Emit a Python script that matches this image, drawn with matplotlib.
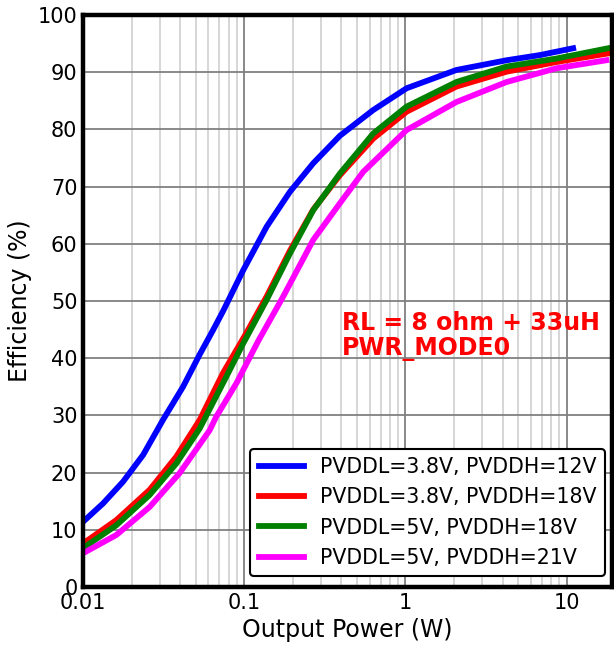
import matplotlib.pyplot as plt
import numpy as np

# Efficiency vs output power, RL = 8 ohm + 33uH, PWR_MODE0
p_blue = [0.01, 0.0133, 0.0177, 0.0236, 0.0313, 0.0417, 0.0528, 0.064, 0.0741, 0.0986,
          0.1377, 0.192, 0.268, 0.392, 0.631, 1.016, 2.07, 4.24, 6.81, 10.96]
eff_blue = [11.4, 14.6, 18.4, 23.1, 29.2, 35.0, 40.6, 44.9, 48.3, 55.4,
            63.0, 69.1, 74.1, 78.9, 83.4, 87.2, 90.4, 92.1, 93.0, 94.2]

p_red = [0.01, 0.0161, 0.0259, 0.0379, 0.0529, 0.0738, 0.103, 0.1377, 0.192, 0.268,
         0.392, 0.631, 1.016, 2.07, 4.24, 8.65, 18.1]
eff_red = [7.6, 11.7, 17.0, 22.8, 29.2, 37.4, 44.4, 50.8, 58.8, 66.0,
           72.0, 78.4, 83.1, 87.5, 90.1, 91.8, 93.3]

p_green = [0.01, 0.0161, 0.0259, 0.0379, 0.0529, 0.0775, 0.0986, 0.1377, 0.192, 0.268,
           0.392, 0.631, 1.016, 2.07, 4.24, 8.65, 18.1]
eff_green = [6.8, 10.8, 16.1, 21.6, 27.7, 36.8, 42.6, 50.2, 58.3, 65.9,
             72.3, 79.3, 84.0, 88.3, 91.0, 92.4, 94.2]

p_mag = [0.01, 0.0161, 0.0259, 0.0397, 0.061, 0.0671, 0.0893, 0.122, 0.1745, 0.268,
         0.392, 0.547, 1.016, 2.07, 4.24, 8.65, 17.6]
eff_mag = [5.9, 9.1, 14.0, 19.9, 27.4, 29.8, 35.6, 43.0, 50.8, 60.7,
           67.1, 72.6, 79.9, 84.8, 88.3, 90.7, 92.1]

labels = ["PVDDL=3.8V, PVDDH=12V", "PVDDL=3.8V, PVDDH=18V",
          "PVDDL=5V, PVDDH=18V", "PVDDL=5V, PVDDH=21V"]
colors = ["#0000ff", "#ff0000", "#008000", "#ff00ff"]

fig = plt.figure(figsize=(6.14, 6.55), dpi=100)
ax = fig.add_axes([0.1352, 0.1038, 0.861, 0.8732])

series = [(p_blue, eff_blue), (p_red, eff_red), (p_green, eff_green), (p_mag, eff_mag)]
for (px, py), lab, col in zip(series, labels, colors):
    ax.plot(px, py, color=col, lw=4.2, label=lab, solid_joinstyle='round')

ax.set_xscale('log')
ax.set_xlim(0.01, 19)
ax.set_ylim(0, 100)
ax.set_yticks(np.arange(0, 101, 10))
ax.set_xticks([0.01, 0.1, 1, 10])
ax.set_xticklabels(['0.01', '0.1', '1', '10'])

ax.grid(True, which='major', color='#808080', lw=1.3)
ax.grid(True, which='minor', axis='x', color='#d3d3d3', lw=1.3)
ax.set_axisbelow(True)

for sp in ax.spines.values():
    sp.set_linewidth(3.2)
ax.tick_params(which='both', length=0, labelsize=15, pad=4)

ax.set_xlabel('Output Power (W)', fontsize=17)
ax.set_ylabel('Efficiency (%)', fontsize=17)

ax.text(0.402, 43.9, 'RL = 8 ohm + 33uH\nPWR_MODE0', color='red', fontsize=17,
        fontweight='bold', va='center', ha='left', linespacing=1.05)

leg = ax.legend(loc='lower right', bbox_to_anchor=(0.9873, 0.0192), borderaxespad=0,
                fontsize=14.8, handlelength=2.2, fancybox=True, framealpha=1)
leg.get_frame().set_edgecolor('black')
leg.get_frame().set_linewidth(1.5)

fig.savefig('out.png', dpi=100)
